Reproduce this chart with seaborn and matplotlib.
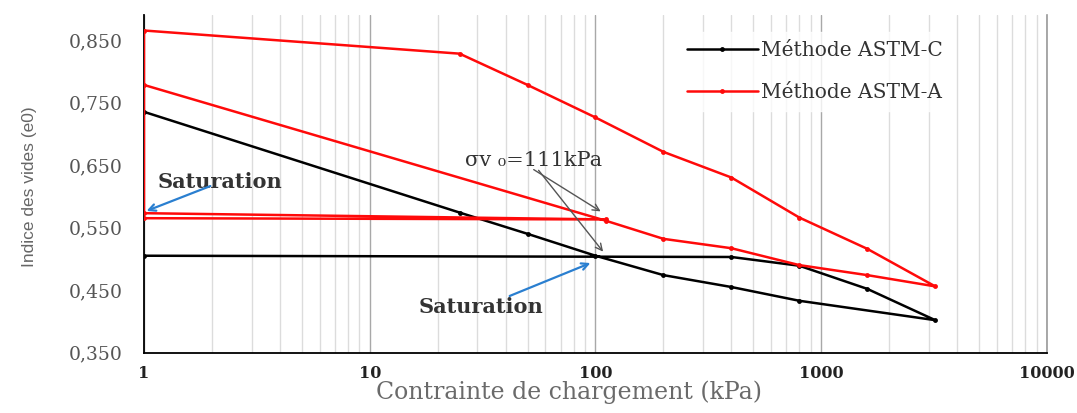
import numpy as np
import pandas as pd
import matplotlib
matplotlib.use("Agg")
import matplotlib.pyplot as plt
import seaborn as sns
from matplotlib.ticker import FixedLocator, FixedFormatter, NullFormatter

# ---------------- data ----------------
black_x = [1, 400, 800, 1600, 3200, 800, 400, 200, 100, 50, 25, 1]
black_y = [0.505, 0.503, 0.489, 0.452, 0.402, 0.433, 0.455, 0.474, 0.505, 0.540, 0.574, 0.735]

red_x = [1, 111, 1, 1, 25, 50, 100, 200, 400, 800, 1600, 3200, 1600, 800, 400, 200, 111, 1]
red_y = [0.565, 0.563, 0.573, 0.865, 0.828, 0.778, 0.726, 0.671, 0.630, 0.566, 0.516, 0.456,
         0.474, 0.490, 0.517, 0.532, 0.561, 0.778]

series_labels = ["Méthode ASTM-C", "Méthode ASTM-A"]
y_ticks = [0.35, 0.45, 0.55, 0.65, 0.75, 0.85]
y_tick_labels = ["0,350", "0,450", "0,550", "0,650", "0,750", "0,850"]
x_ticks = [1, 10, 100, 1000, 10000]
x_tick_labels = ["1", "10", "100", "1000", "10000"]

df_c = pd.DataFrame({"x": black_x, "y": black_y})
df_a = pd.DataFrame({"x": red_x, "y": red_y})

# ---------------- style ----------------
sns.set_theme(style="white")
SERIF = ["DejaVu Serif", "DejaVu Sans"]
plt.rcParams["font.family"] = SERIF

fig = plt.figure(figsize=(10.77, 4.13), dpi=100)
ax = fig.add_axes([0.1337, 0.146, 0.8384, 0.818])

ax.set_xscale("log")
ax.set_xlim(1, 10000)
ax.set_ylim(0.35, 0.89)

# gridlines (vertical only)
ax.xaxis.set_minor_locator(matplotlib.ticker.LogLocator(base=10, subs=np.arange(2, 10)))
ax.xaxis.set_minor_formatter(NullFormatter())
ax.grid(which="minor", axis="x", color="#dcdcdc", lw=1.0)
ax.grid(which="major", axis="x", color="#a8a8a8", lw=1.0)
ax.grid(False, axis="y")
ax.set_axisbelow(True)

sns.lineplot(data=df_c, x="x", y="y", ax=ax, sort=False, estimator=None,
             color="black", lw=1.8, marker="o", markersize=3.5,
             markeredgewidth=0, label=series_labels[0], zorder=3)
sns.lineplot(data=df_a, x="x", y="y", ax=ax, sort=False, estimator=None,
             color="#ff0a0a", lw=1.8, marker="o", markersize=3.5,
             markeredgewidth=0, label=series_labels[1], zorder=3)

ax.xaxis.set_major_locator(FixedLocator(x_ticks))
ax.xaxis.set_major_formatter(FixedFormatter(x_tick_labels))
ax.yaxis.set_major_locator(FixedLocator(y_ticks))
ax.yaxis.set_major_formatter(FixedFormatter(y_tick_labels))
ax.tick_params(axis="x", which="both", length=0, pad=9, labelsize=11.5, labelcolor="#222222")
ax.tick_params(axis="y", which="both", length=0, pad=16, labelsize=13.5, labelcolor="#555555")
for lab in ax.get_xticklabels():
    lab.set_fontweight("bold")

for s in ["left", "bottom"]:
    ax.spines[s].set_color("black")
    ax.spines[s].set_linewidth(1.3)
ax.spines["top"].set_visible(False)
ax.spines["right"].set_color("#9a9a9a")
ax.spines["right"].set_linewidth(1.2)

ax.set_ylabel("Indice des vides (e0)", fontsize=12.5, color="#666666",
              family=["Liberation Sans Narrow", "Liberation Sans", "DejaVu Sans"])
ax.yaxis.set_label_coords(-0.118, 0.49)
ax.set_xlabel("Contrainte de chargement (kPa)", fontsize=17, color="#6a6a6a")
ax.xaxis.set_label_coords(0.471, -0.118)
ax.xaxis.label.set_va("center")

leg = ax.legend(loc="upper left", bbox_to_anchor=(0.5914, 0.95), frameon=True,
                fontsize=14.5, handlelength=3.5, handletextpad=0.15,
                labelspacing=1.16, borderpad=0.45, borderaxespad=0.0, fancybox=False)
leg.get_frame().set_edgecolor("white")
leg.get_frame().set_facecolor("white")
for t in leg.get_texts():
    t.set_color("#333333")

# annotations
ax.text(26.4, 0.658, "σv ₀=111kPa", fontsize=15, color="#333333", va="center", ha="left")
ax.annotate("", xy=(108, 0.5735), xytext=(52, 0.645),
            arrowprops=dict(arrowstyle="->", color="#555555", lw=1.0))
ax.annotate("", xy=(110, 0.508), xytext=(55, 0.645),
            arrowprops=dict(arrowstyle="->", color="#555555", lw=1.0))

ax.text(1.15, 0.623, "Saturation", fontsize=15, fontweight="bold", color="#333333",
        va="center", ha="left")
ax.annotate("", xy=(1.0, 0.575), xytext=(2.02, 0.618),
            arrowprops=dict(arrowstyle="->", color="#2a7fd0", lw=1.6))

ax.text(16.4, 0.423, "Saturation", fontsize=15, fontweight="bold", color="#333333",
        va="center", ha="left")
ax.annotate("", xy=(97.5, 0.495), xytext=(40.6, 0.439),
            arrowprops=dict(arrowstyle="->", color="#2a7fd0", lw=1.6))

# align y tick labels so their right edge sits ~21 px left of the axis
fig.canvas.draw()
renderer = fig.canvas.get_renderer()
right_edge = max(t.get_window_extent(renderer).x1 for t in ax.get_yticklabels())
target_px = 123.0
new_pad = 16 + (right_edge - target_px) * 72.0 / fig.dpi
ax.tick_params(axis="y", which="both", pad=max(new_pad, 1))

fig.savefig("out.png", dpi=100)
